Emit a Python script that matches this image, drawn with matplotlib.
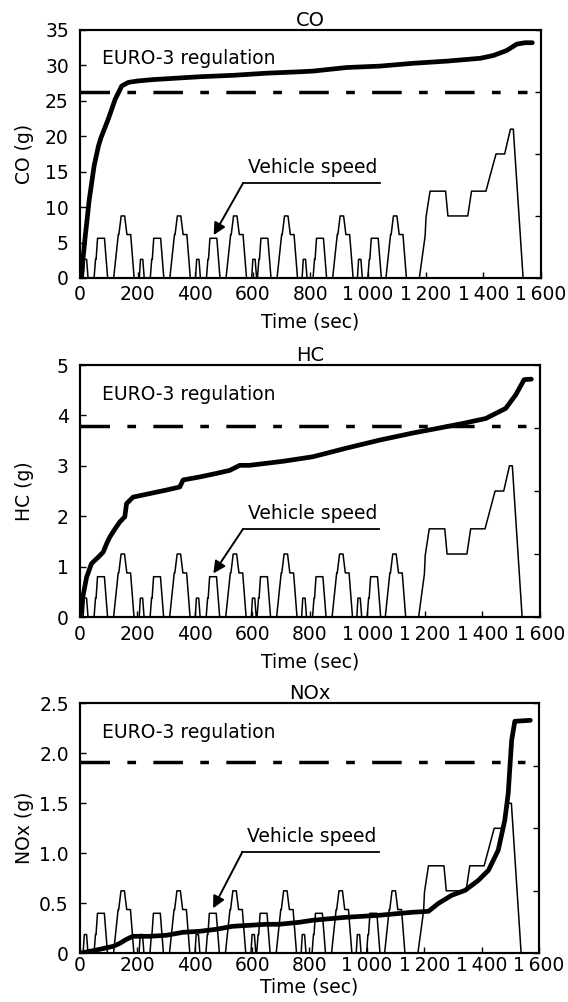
import numpy as np
import matplotlib
matplotlib.use("Agg")
import matplotlib.pyplot as plt

plt.rcParams['font.family'] = ['DejaVu Sans']

# vehicle speed trace (km/h), 6 ECE cycles + EUDC, vertices
speed_time = [0, 11, 15, 23, 28, 49, 54, 56, 61, 85, 96, 117, 133, 135, 143, 155, 163, 176, 188,
              206, 210, 218, 223, 244, 249, 251, 256, 280, 291, 312, 328, 330, 338, 350, 358, 371, 383,
              401, 405, 413, 418, 439, 444, 446, 451, 475, 486, 507, 523, 525, 533, 545, 553, 566, 578,
              596, 600, 608, 613, 616, 621, 623, 628, 652, 663, 684, 700, 702, 710, 722, 730, 743, 755,
              771, 775, 783, 788, 809, 814, 816, 821, 845, 856, 877, 893, 895, 903, 915, 923, 936, 948,
              963, 967, 975, 980, 999, 1004, 1006, 1011, 1035, 1046, 1062, 1078, 1080, 1088, 1100, 1108, 1121, 1133,
              1178, 1198, 1201, 1215, 1269, 1277, 1346, 1359, 1409, 1444, 1474, 1494, 1504, 1538, 1558]
speed_kmh = [0, 0, 15, 15, 0, 0, 15, 15, 32, 32, 0, 0, 35, 35, 50, 50, 35, 35, 0,
             0, 15, 15, 0, 0, 15, 15, 32, 32, 0, 0, 35, 35, 50, 50, 35, 35, 0,
             0, 15, 15, 0, 0, 15, 15, 32, 32, 0, 0, 35, 35, 50, 50, 35, 35, 0,
             0, 15, 15, 0, 0, 15, 15, 32, 32, 0, 0, 35, 35, 50, 50, 35, 35, 0,
             0, 15, 15, 0, 0, 15, 15, 32, 32, 0, 0, 35, 35, 50, 50, 35, 35, 0,
             0, 15, 15, 0, 0, 15, 15, 32, 32, 0, 0, 35, 35, 50, 50, 35, 35, 0,
             0, 34, 49, 70, 70, 50, 50, 70, 70, 100, 100, 120, 120, 0, 0]

# cumulative emissions
co_time = [0, 6, 10, 17, 32, 49, 64, 73, 98, 122, 145, 168, 200, 255, 417, 532, 648, 764,
           810, 926, 1042, 1157, 1273, 1389, 1435, 1481, 1516, 1545, 1570]
co_g = [0, 0.5, 2.5, 5.4, 11.0, 15.8, 18.6, 19.8, 22.4, 25.2, 27.1, 27.6, 27.8, 28.0, 28.4, 28.6, 28.9, 29.1,
        29.2, 29.7, 29.9, 30.3, 30.6, 31.0, 31.4, 32.1, 33.0, 33.2, 33.2]

hc_time = [0, 6, 12, 23, 40, 64, 81, 93, 104, 122, 139, 156, 162, 185, 243, 301, 347, 359, 417, 475,
           521, 556, 590, 648, 706, 764, 810, 926, 1042, 1157, 1250, 1331, 1412, 1481, 1516, 1545, 1570]
hc_g = [0, 0.26, 0.46, 0.79, 1.06, 1.19, 1.29, 1.46, 1.59, 1.75, 1.89, 1.99, 2.25, 2.38, 2.45, 2.52, 2.58,
        2.72, 2.78, 2.85, 2.91, 3.01, 3.01, 3.05, 3.09, 3.14, 3.18, 3.35, 3.51, 3.65, 3.75, 3.84, 3.94,
        4.14, 4.41, 4.71, 4.72]

nox_time = [0, 69, 116, 139, 162, 185, 243, 301, 359, 417, 475, 532, 590, 648, 694, 764, 810, 926, 1042,
            1157, 1215, 1250, 1296, 1343, 1389, 1424, 1458, 1481, 1493, 1499, 1505, 1516, 1570]
nox_g = [0, 0.04, 0.07, 0.10, 0.14, 0.17, 0.17, 0.18, 0.21, 0.22, 0.24, 0.27, 0.28, 0.29, 0.29, 0.31, 0.33,
         0.36, 0.38, 0.41, 0.42, 0.50, 0.58, 0.63, 0.73, 0.83, 1.03, 1.33, 1.60, 1.87, 2.13, 2.32, 2.33]

euro3_limits = [26.2, 3.8, 1.91]
limit_end = 1550

x_ticks = [0, 200, 400, 600, 800, 1000, 1200, 1400, 1600]
x_labels = ['0', '200', '400', '600', '800', '1\u2009000', '1\u2009200', '1\u2009400', '1\u2009600']

panels = [
    dict(title='CO', ylabel='CO (g)', t=co_time, y=co_g, ylim=35,
         yticks=[0, 5, 10, 15, 20, 25, 30, 35], ylabels=['0', '5', '10', '15', '20', '25', '30', '35'],
         rect=[0.1408, 0.7226, 0.8116, 0.2475], xpad=5, xlab_y=-0.14, under_y=0.383, head_y=0.173),
    dict(title='HC', ylabel='HC (g)', t=hc_time, y=hc_g, ylim=5,
         yticks=[0, 1, 2, 3, 4, 5], ylabels=['0', '1', '2', '3', '4', '5'],
         rect=[0.1408, 0.3842, 0.8098, 0.2515], xpad=6, xlab_y=-0.14, under_y=0.348, head_y=0.173),
    dict(title='NOx', ylabel='NOx (g)', t=nox_time, y=nox_g, ylim=2.5,
         yticks=[0, 0.5, 1.0, 1.5, 2.0, 2.5], ylabels=['0', '0.5', '1.0', '1.5', '2.0', '2.5'],
         rect=[0.1408, 0.0486, 0.8080, 0.2495], xpad=2, xlab_y=-0.095, under_y=0.406, head_y=0.18),
]

fig = plt.figure(figsize=(5.68, 10.02), dpi=100)

for i, p in enumerate(panels):
    ax = fig.add_axes(p['rect'])
    ax.plot(p['t'], p['y'], color='black', lw=3.4, solid_capstyle='round', zorder=3)
    ax.plot([0, limit_end], [euro3_limits[i]] * 2, color='black', lw=2.5,
            linestyle=(0, (8.5, 5, 2.5, 5)), zorder=2)
    ax.set_xlim(0, 1600)
    ax.set_ylim(0, p['ylim'])
    ax.set_xticks(x_ticks)
    ax.set_xticklabels(x_labels)
    ax.set_yticks(p['yticks'])
    ax.set_yticklabels(p['ylabels'])
    ax.tick_params(axis='both', direction='in', length=4, width=1, labelsize=13.5)
    ax.tick_params(axis='y', pad=8)
    ax.tick_params(axis='x', pad=p['xpad'])
    for s in ax.spines.values():
        s.set_linewidth(1.5)
    ax.set_title(p['title'], fontsize=14, pad=2)
    ax.set_xlabel('Time (sec)', fontsize=13.5)
    ax.xaxis.set_label_coords(0.5, p['xlab_y'])
    ax.set_ylabel(p['ylabel'], fontsize=13.5)
    ax.yaxis.set_label_coords(-0.10, 0.5)

    ax.text(0.048, 0.885, 'EURO-3 regulation', transform=ax.transAxes, fontsize=13.5,
            ha='left', va='center')

    # vehicle speed on a hidden 0-200 km/h scale
    ax2 = ax.twinx()
    ax2.plot(speed_time, speed_kmh, color='black', lw=1.1, zorder=1)
    ax2.set_ylim(0, 200)
    ax2.set_yticks([0, 50, 100, 150, 200])
    ax2.tick_params(axis='y', direction='in', length=4, width=1, labelright=False)
    for s in ax2.spines.values():
        s.set_linewidth(1.5)

    uy = p['under_y']
    ax.plot([0.354, 0.651], [uy, uy], transform=ax.transAxes, color='black', lw=1.3, clip_on=False)
    ax.annotate('', xy=(0.29, p['head_y']), xytext=(0.354, uy),
                xycoords='axes fraction', textcoords='axes fraction',
                arrowprops=dict(arrowstyle='-|>', color='black', lw=1.4,
                                mutation_scale=18, shrinkA=0, shrinkB=0))
    ax.text(0.505, uy + 0.025, 'Vehicle speed', transform=ax.transAxes, fontsize=13.5,
            ha='center', va='bottom')

fig.savefig('out.png', dpi=100)
